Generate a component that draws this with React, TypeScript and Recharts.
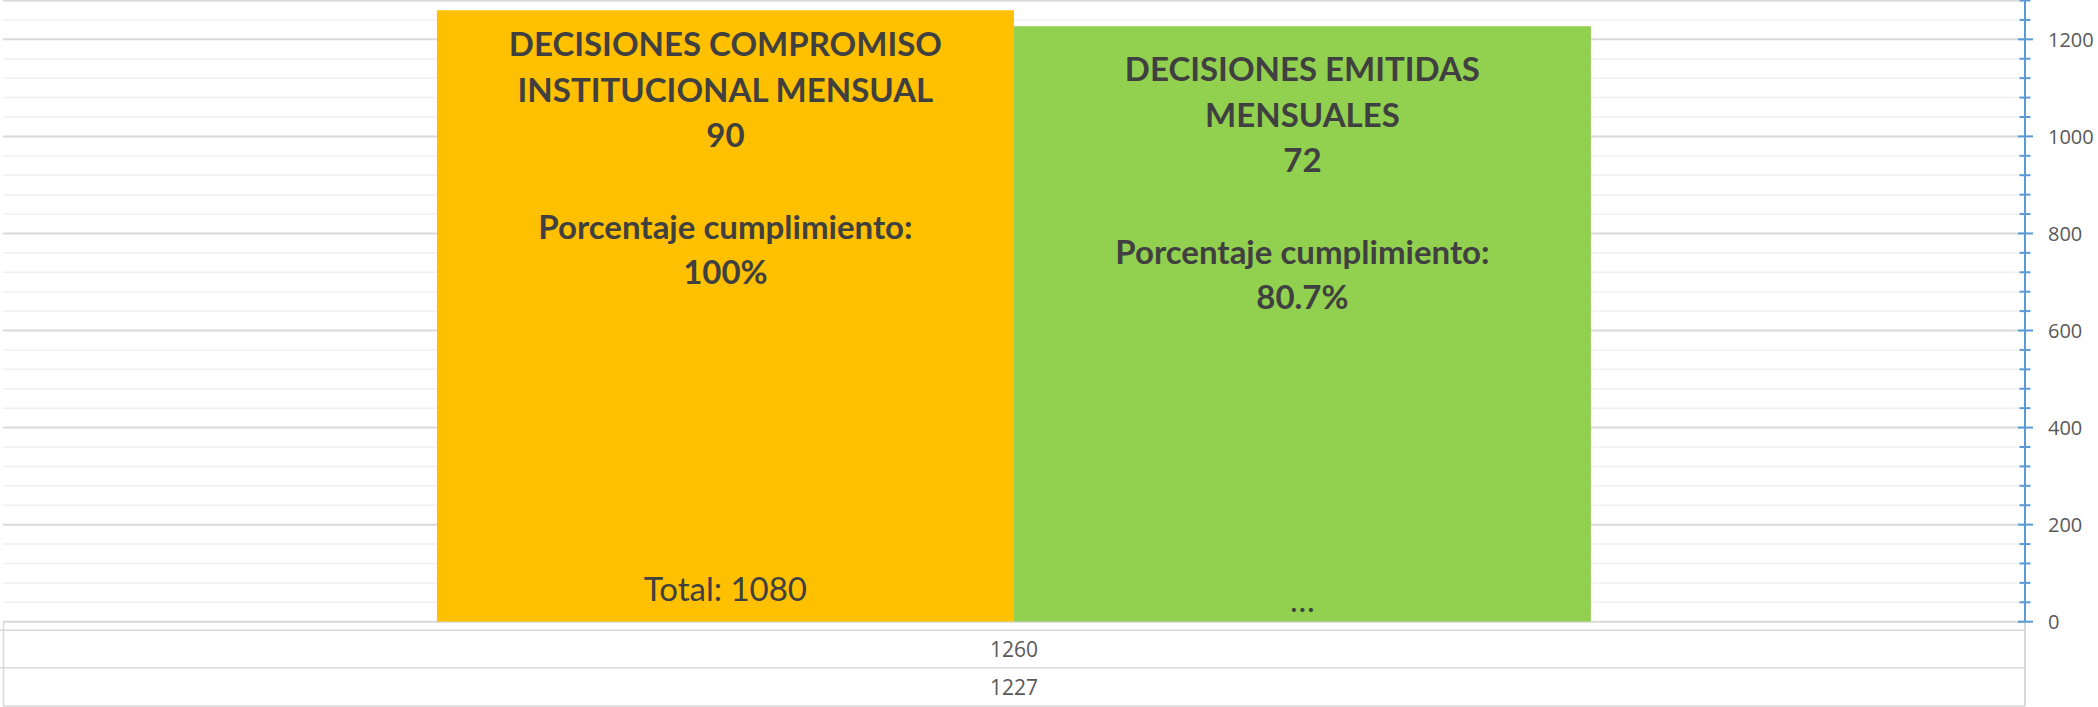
import React from 'react';
import { BarChart, Bar, XAxis, YAxis, CartesianGrid, LabelList } from 'recharts';

// ---------- data ----------
const categories = [''];
const compromisoValues = [1260];
const emitidasValues = [1227];
const seriesTitles = [
  ['DECISIONES COMPROMISO', 'INSTITUCIONAL MENSUAL'],
  ['DECISIONES EMITIDAS', 'MENSUALES'],
];
const monthlyCounts = ['90', '72'];
const complianceCaption = 'Porcentaje cumplimiento:';
const complianceLabels = ['100%', '80.7%'];
const baseLabels = ['Total: 1080', '…'];
const tableRows = ['1260', '1227'];
const majorTicks = [0, 200, 400, 600, 800, 1000, 1200];
const minorTicks = [40, 80, 120, 160, 240, 280, 320, 360, 440, 480, 520, 560, 640, 680, 720, 760, 840, 880, 920, 960, 1040, 1080, 1120, 1160, 1240, 1280];
const allTicks = [0, 40, 80, 120, 160, 200, 240, 280, 320, 360, 400, 440, 480, 520, 560, 600, 640, 680, 720, 760, 800, 840, 880, 920, 960, 1000, 1040, 1080, 1120, 1160, 1200, 1240, 1280];
const yDomain = [0, 1280];

const data = categories.map((c, i) => ({
  category: c,
  compromiso: compromisoValues[i],
  emitidas: emitidasValues[i],
}));

// ---------- layout / style ----------
const CHART_W = 2098;
const CHART_H = 707;
const MARGIN = { top: 0.5, right: 0, bottom: 0, left: 3 };
const Y_AXIS_W = 73;
const X_AXIS_H = 85.3;
const PLOT_LEFT = MARGIN.left;
const PLOT_RIGHT = CHART_W - MARGIN.right - Y_AXIS_W;
const LABEL_FONT = 'Lato, "Open Sans", sans-serif';
const AXIS_FONT = '"Open Sans", sans-serif';
const LABEL_COLOR = '#404040';
const AXIS_COLOR = '#595959';
const LINE_H = 45.6;
const TOP_OFFSETS = [33, 42];
const BASE_OFFSETS = [21, 10];

const AxisTick = (props: any) => {
  const { x, y, payload } = props;
  const v = payload.value;
  const isMajor = majorTicks.includes(v);
  return (
    <g>
      <line
        x1={x - (isMajor ? 7 : 5.5)}
        x2={x + (isMajor ? 8 : 5.5)}
        y1={y}
        y2={y}
        stroke="#5B9BD5"
        strokeWidth={2}
      />
      {isMajor && (
        <text
          x={x + 23}
          y={y}
          textAnchor="start"
          dominantBaseline="central"
          fontFamily={AXIS_FONT}
          fontSize={20}
          fill={AXIS_COLOR}
        >
          {v}
        </text>
      )}
    </g>
  );
};

const TableTick = (props: any) => {
  const { x, y } = props;
  const c = '#d9d9d9';
  return (
    <g>
      <line x1={PLOT_LEFT} x2={PLOT_RIGHT} y1={y + 8.5} y2={y + 8.5} stroke={c} strokeWidth={1.5} />
      <line x1={PLOT_LEFT - 3} x2={PLOT_RIGHT} y1={y + 46} y2={y + 46} stroke={c} strokeWidth={1.5} />
      <line x1={PLOT_LEFT} x2={PLOT_RIGHT} y1={y + 84.3} y2={y + 84.3} stroke={c} strokeWidth={1.5} />
      <line x1={PLOT_LEFT - 3} x2={PLOT_LEFT} y1={y + 8.5} y2={y + 8.5} stroke={c} strokeWidth={1.5} />
      <line x1={PLOT_LEFT + 0.5} x2={PLOT_LEFT + 0.5} y1={y} y2={y + 84.3} stroke={c} strokeWidth={1.5} />
      <line x1={PLOT_RIGHT} x2={PLOT_RIGHT} y1={y} y2={y + 84.3} stroke={c} strokeWidth={2} />
      {tableRows.map((t, i) => (
        <text
          key={i}
          x={x}
          y={y + 27.5 + i * 38}
          textAnchor="middle"
          dominantBaseline="central"
          fontFamily={AXIS_FONT}
          fontSize={21}
          fill={AXIS_COLOR}
        >
          {t}
        </text>
      ))}
    </g>
  );
};

const makeTopLabel = (idx: number) => (props: any) => {
  const vb = props.viewBox || props;
  const cx = vb.x + vb.width / 2;
  const top = Math.min(vb.y, vb.y + vb.height);
  const lines = [...seriesTitles[idx], monthlyCounts[idx], '', complianceCaption, complianceLabels[idx]];
  return (
    <g>
      {lines.map((l, i) => (
        <text
          key={i}
          x={cx}
          y={top + TOP_OFFSETS[idx] + i * LINE_H}
          textAnchor="middle"
          dominantBaseline="central"
          fontFamily={LABEL_FONT}
          fontWeight={700}
          fontSize={33}
          fill={LABEL_COLOR}
        >
          {l}
        </text>
      ))}
    </g>
  );
};

const makeBaseLabel = (idx: number) => (props: any) => {
  const vb = props.viewBox || props;
  const cx = vb.x + vb.width / 2;
  const bottom = Math.max(vb.y, vb.y + vb.height);
  return (
    <text
      x={cx}
      y={bottom - BASE_OFFSETS[idx]}
      textAnchor="middle"
      fontFamily={LABEL_FONT}
      fontSize={33}
      fill={LABEL_COLOR}
    >
      {baseLabels[idx]}
    </text>
  );
};

export default function App() {
  return (
    <div style={{ position: 'absolute', left: 0, top: 0, width: CHART_W, height: CHART_H, background: '#fff' }}>
      <BarChart
        width={CHART_W}
        height={CHART_H}
        data={data}
        margin={MARGIN}
        barCategoryGap="21.46%"
        barGap={0}
      >
        <YAxis yAxisId="gridMinor" hide domain={yDomain} ticks={minorTicks} interval={0} type="number" allowDataOverflow />
        <YAxis yAxisId="gridMajor" hide domain={yDomain} ticks={majorTicks} interval={0} type="number" allowDataOverflow />
        <CartesianGrid yAxisId="gridMinor" vertical={false} stroke="#f0f0f0" strokeWidth={1.5} />
        <CartesianGrid yAxisId="gridMajor" vertical={false} stroke="#d9d9d9" strokeWidth={2} />
        <XAxis
          dataKey="category"
          height={X_AXIS_H}
          axisLine={false}
          tickLine={false}
          tickSize={0}
          tickMargin={0}
          interval={0}
          tick={<TableTick />}
        />
        <YAxis
          yAxisId="main"
          orientation="right"
          width={Y_AXIS_W}
          domain={yDomain}
          ticks={allTicks}
          interval={0}
          type="number"
          allowDataOverflow
          axisLine={{ stroke: '#5B9BD5', strokeWidth: 2 }}
          tickLine={false}
          tickSize={0}
          tickMargin={0}
          tick={<AxisTick />}
        />
        <Bar yAxisId="main" dataKey="compromiso" fill="#FFC000" isAnimationActive={false}>
          <LabelList dataKey="compromiso" content={makeTopLabel(0)} />
          <LabelList dataKey="compromiso" content={makeBaseLabel(0)} />
        </Bar>
        <Bar yAxisId="main" dataKey="emitidas" fill="#92D050" isAnimationActive={false}>
          <LabelList dataKey="emitidas" content={makeTopLabel(1)} />
          <LabelList dataKey="emitidas" content={makeBaseLabel(1)} />
        </Bar>
      </BarChart>
    </div>
  );
}
